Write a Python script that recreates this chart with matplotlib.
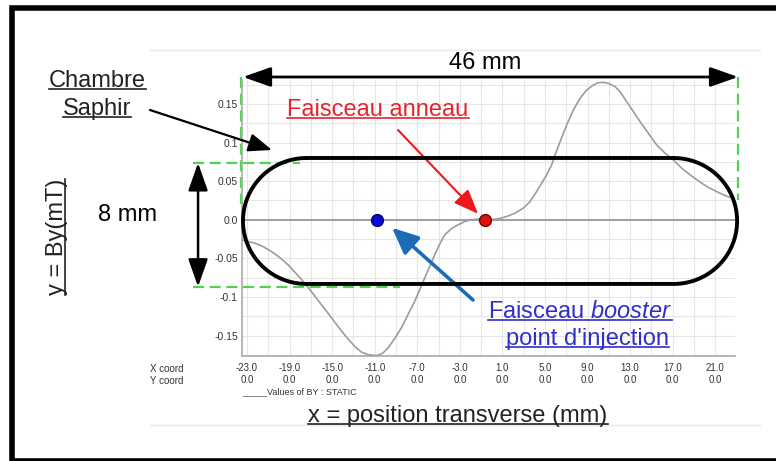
import numpy as np
import matplotlib
matplotlib.use("Agg")
import matplotlib.pyplot as plt
from matplotlib.lines import Line2D
from matplotlib.patches import Rectangle

plt.rcParams['font.family'] = ['Liberation Sans', 'DejaVu Sans']
plt.rcParams['mathtext.fontset'] = 'custom'
plt.rcParams['mathtext.rm'] = 'Liberation Sans'
plt.rcParams['mathtext.it'] = 'Liberation Sans:italic'

# field profile (x in mm, By in mT)
x_mm = [-23.53, -22.91, -22.28, -21.50, -20.71, -19.93, -19.15, -18.36, -17.58, -16.80,
        -16.01, -15.23, -14.45, -13.67, -12.88, -12.26, -11.63, -11.00, -10.69, -10.22,
        -9.75, -9.12, -8.50, -7.87, -7.24, -6.77, -6.30, -5.83, -5.36, -4.89,
        -4.42, -3.80, -3.17, -2.54, -1.92, -1.29, -0.66, -0.16, 0.62, 1.41,
        2.19, 2.97, 3.60, 4.22, 4.69, 5.16, 5.63, 5.95, 6.42, 7.04,
        7.67, 8.30, 8.92, 9.55, 10.02, 10.49, 10.96, 11.59, 12.06, 12.68,
        13.31, 13.94, 14.72, 15.50, 16.29, 17.07, 17.85, 18.64, 19.42, 20.20,
        20.99, 21.77, 22.40]
by_mT = [-0.0258, -0.0280, -0.0301, -0.0345, -0.0409, -0.0487, -0.0581, -0.0698, -0.0818, -0.0956,
         -0.1098, -0.1236, -0.1378, -0.1516, -0.1637, -0.1710, -0.1744, -0.1757, -0.1753, -0.1723,
         -0.1658, -0.1537, -0.1400, -0.1227, -0.1055, -0.0904, -0.0754, -0.0603, -0.0452, -0.0314,
         -0.0194, -0.0116, -0.0065, -0.0022, 0.0000, 0.0009, 0.0013, 0.0000, 0.0013, 0.0043,
         0.0086, 0.0151, 0.0237, 0.0366, 0.0474, 0.0581, 0.0711, 0.0840, 0.1012, 0.1227,
         0.1421, 0.1572, 0.1680, 0.1744, 0.1774, 0.1779, 0.1766, 0.1723, 0.1658, 0.1529,
         0.1400, 0.1270, 0.1120, 0.0969, 0.0861, 0.0775, 0.0668, 0.0581, 0.0504, 0.0431,
         0.0375, 0.0323, 0.0289]

x_ticks = [-23, -19, -15, -11, -7, -3, 1, 5, 9, 13, 17, 21]
x_minor = [-21, -17, -13, -9, -5, -1, 3, 7, 11, 15, 19]
y_ticks = [-0.15, -0.1, -0.05, 0.0, 0.05, 0.1, 0.15]
y_labels = ['-0.15', '-0.1', '-0.05', '0.0', '0.05', '0.1', '0.15']
y_minor = [-0.175, -0.125, -0.075, -0.025, 0.025, 0.075, 0.125, 0.175]

booster_x, booster_y = -10.8, 0.0
ring_x, ring_y = -0.6, 0.0

W, H = 776, 461


def fp(x, y):
    return (x / W, 1 - y / H)


fig = plt.figure(figsize=(W / 100, H / 100), dpi=100)
ax = fig.add_axes([242 / W, 1 - 356 / H, (735 - 242) / W, (356 - 80) / H])
ax.set_xlim(-23.47, 22.86)
ax.set_ylim(-0.1762, 0.1809)

ax.set_xticks(x_ticks)
ax.set_xticklabels([f"{v:.1f}\n0.0" for v in x_ticks], fontsize=7, color='#333333',
                   linespacing=1.25)
ax.set_xticks(x_minor, minor=True)
ax.set_yticks(y_ticks)
ax.set_yticklabels(y_labels, fontsize=7.5, color='#333333')
ax.set_yticks(y_minor, minor=True)
ax.tick_params(which='both', length=0)
ax.tick_params(axis='x', pad=5)
ax.tick_params(axis='y', pad=3)
ax.grid(True, which='both', color='#e6e6e6', lw=0.8)
ax.set_axisbelow(True)
for s in ['top', 'right']:
    ax.spines[s].set_visible(False)
for s in ['left', 'bottom']:
    ax.spines[s].set_color('#aaaaaa')
    ax.spines[s].set_linewidth(1.2)

ax.axhline(0, color='#999999', lw=1.3, zorder=2)
ax.plot(x_mm, by_mT, color='#9c9c9c', lw=1.2, zorder=3)

# green dashed guides
green = '#4fd44f'
dash = dict(color=green, lw=1.6, ls=(0, (5, 2.5)), clip_on=False, zorder=2.5)
ax.plot([-23.56, -23.56], [0.1848, 0.02], **dash)
ax.plot([23.15, 23.15], [0.1848, 0.026], **dash)
ax.plot([-28.1, -18.0], [0.0736, 0.0736], **dash)
ax.plot([-28.1, -8.6], [-0.0866, -0.0866], **dash)

# vacuum chamber (stadium)
xl, xr, yc, rx, ry = -23.38, 23.06, -0.0015, 5.97, 0.0815
t1 = np.linspace(np.pi / 2, 3 * np.pi / 2, 80)
t2 = np.linspace(-np.pi / 2, np.pi / 2, 80)
sx = np.concatenate([xl + rx + rx * np.cos(t1), xr - rx + rx * np.cos(t2), [xl + rx]])
sy = np.concatenate([yc + ry * np.sin(t1), yc + ry * np.sin(t2), [yc + ry]])
ax.plot(sx, sy, color='black', lw=2.8, clip_on=False, zorder=4,
        solid_capstyle='round')

ax.plot(booster_x, booster_y, 'o', ms=8.5, mfc='#0a0ad8', mec='#00006a', mew=1, zorder=6)
ax.plot(ring_x, ring_y, 'o', ms=8.5, mfc='#e01010', mec='#7a0000', mew=1, zorder=6)

# dimension arrows
ax.annotate('', xy=(-23.38, 0.1848), xytext=(23.15, 0.1848), annotation_clip=False,
            arrowprops=dict(arrowstyle='<|-|>,head_length=0.85,head_width=0.3',
                            mutation_scale=20, color='black', lw=2, shrinkA=0, shrinkB=0))
ax.annotate('', xy=(-27.6, 0.0736), xytext=(-27.6, -0.0866), annotation_clip=False,
            arrowprops=dict(arrowstyle='<|-|>,head_length=0.85,head_width=0.3',
                            mutation_scale=20, color='black', lw=1.8, shrinkA=0, shrinkB=0))

# pointers
ax.annotate('', xy=fp(272, 150), xycoords='figure fraction', xytext=fp(150, 110),
            textcoords='figure fraction', annotation_clip=False,
            arrowprops=dict(arrowstyle='-|>,head_length=0.9,head_width=0.35',
                            mutation_scale=16, color='black', lw=1.6, shrinkA=0, shrinkB=0))
ax.annotate('', xy=(-1.29, 0.0078), xytext=fp(398, 130), textcoords='figure fraction',
            annotation_clip=False,
            arrowprops=dict(arrowstyle='-|>,head_length=1.0,head_width=0.4',
                            mutation_scale=15, color='#f01818', lw=1.5, shrinkA=0, shrinkB=0))
ax.annotate('', xy=(-9.37, -0.0103), xytext=fp(473, 300), textcoords='figure fraction',
            annotation_clip=False,
            arrowprops=dict(arrowstyle='-|>,head_length=1.0,head_width=0.45',
                            mutation_scale=16, color='#1c6db5', lw=2.6, shrinkA=0, shrinkB=0))

# text
big = 17
fig.text(*fp(485, 63), '46 mm', fontsize=big, ha='center', va='center')
fig.text(*fp(127, 215), '8 mm', fontsize=big, ha='center', va='center')
t_ch = fig.text(*fp(97, 81), 'Chambre', fontsize=big, ha='center', va='center', color='#222222')
t_sa = fig.text(*fp(97, 109), 'Saphir', fontsize=big, ha='center', va='center', color='#222222')
t_by = fig.text(*fp(57, 237), 'y = By(mT)', fontsize=big, ha='center', va='center',
                rotation=90, color='#222222')
t_fa = fig.text(*fp(378, 110), 'Faisceau anneau', fontsize=big, ha='center', va='center',
                color='#e8232d')
t_fb = fig.text(*fp(580, 312), 'Faisceau $\\mathit{booster}$', fontsize=big, ha='center',
                va='center', color='#3030c8')
t_pi = fig.text(*fp(587, 339), "point d'injection", fontsize=big, ha='center', va='center',
                color='#3030c8')
t_x = fig.text(*fp(458, 416), 'x = position transverse (mm)', fontsize=big, ha='center',
               va='center', color='#222222')

fig.text(*fp(150, 369), 'X coord', fontsize=7, ha='left', va='center', color='#333333')
fig.text(*fp(150, 381), 'Y coord', fontsize=7, ha='left', va='center', color='#333333')
fig.text(*fp(242, 392), '_____Values of BY : STATIC', fontsize=6.5, ha='left', va='center',
         color='#333333')

# faint slide frame lines
for yy in [50, 425]:
    fig.add_artist(Line2D([150 / W, 760 / W], [1 - yy / H, 1 - yy / H],
                          transform=fig.transFigure, color='#e8e8e8', lw=1))

# outer black frame (right side cut off)
fig.add_artist(Rectangle((12.5 / W, 1 - 460.5 / H), (950 - 12.5) / W, (460.5 - 8) / H,
                         transform=fig.transFigure, fill=False, ec='black', lw=4,
                         clip_on=False))

# underlines
fig.canvas.draw()
for t in [t_ch, t_sa, t_fa, t_fb, t_pi, t_x, t_by]:
    bb = t.get_window_extent()
    c = t.get_color()
    if t is t_by:
        xx = bb.x1 - 0.12 * bb.width
        fig.add_artist(Line2D([xx / W, xx / W], [bb.y0 / H, bb.y1 / H],
                              transform=fig.transFigure, color=c, lw=1.2))
    else:
        yy = bb.y0 + 0.12 * bb.height
        fig.add_artist(Line2D([bb.x0 / W, bb.x1 / W], [yy / H, yy / H],
                              transform=fig.transFigure, color=c, lw=1.2))

fig.savefig('out.png', dpi=100)
